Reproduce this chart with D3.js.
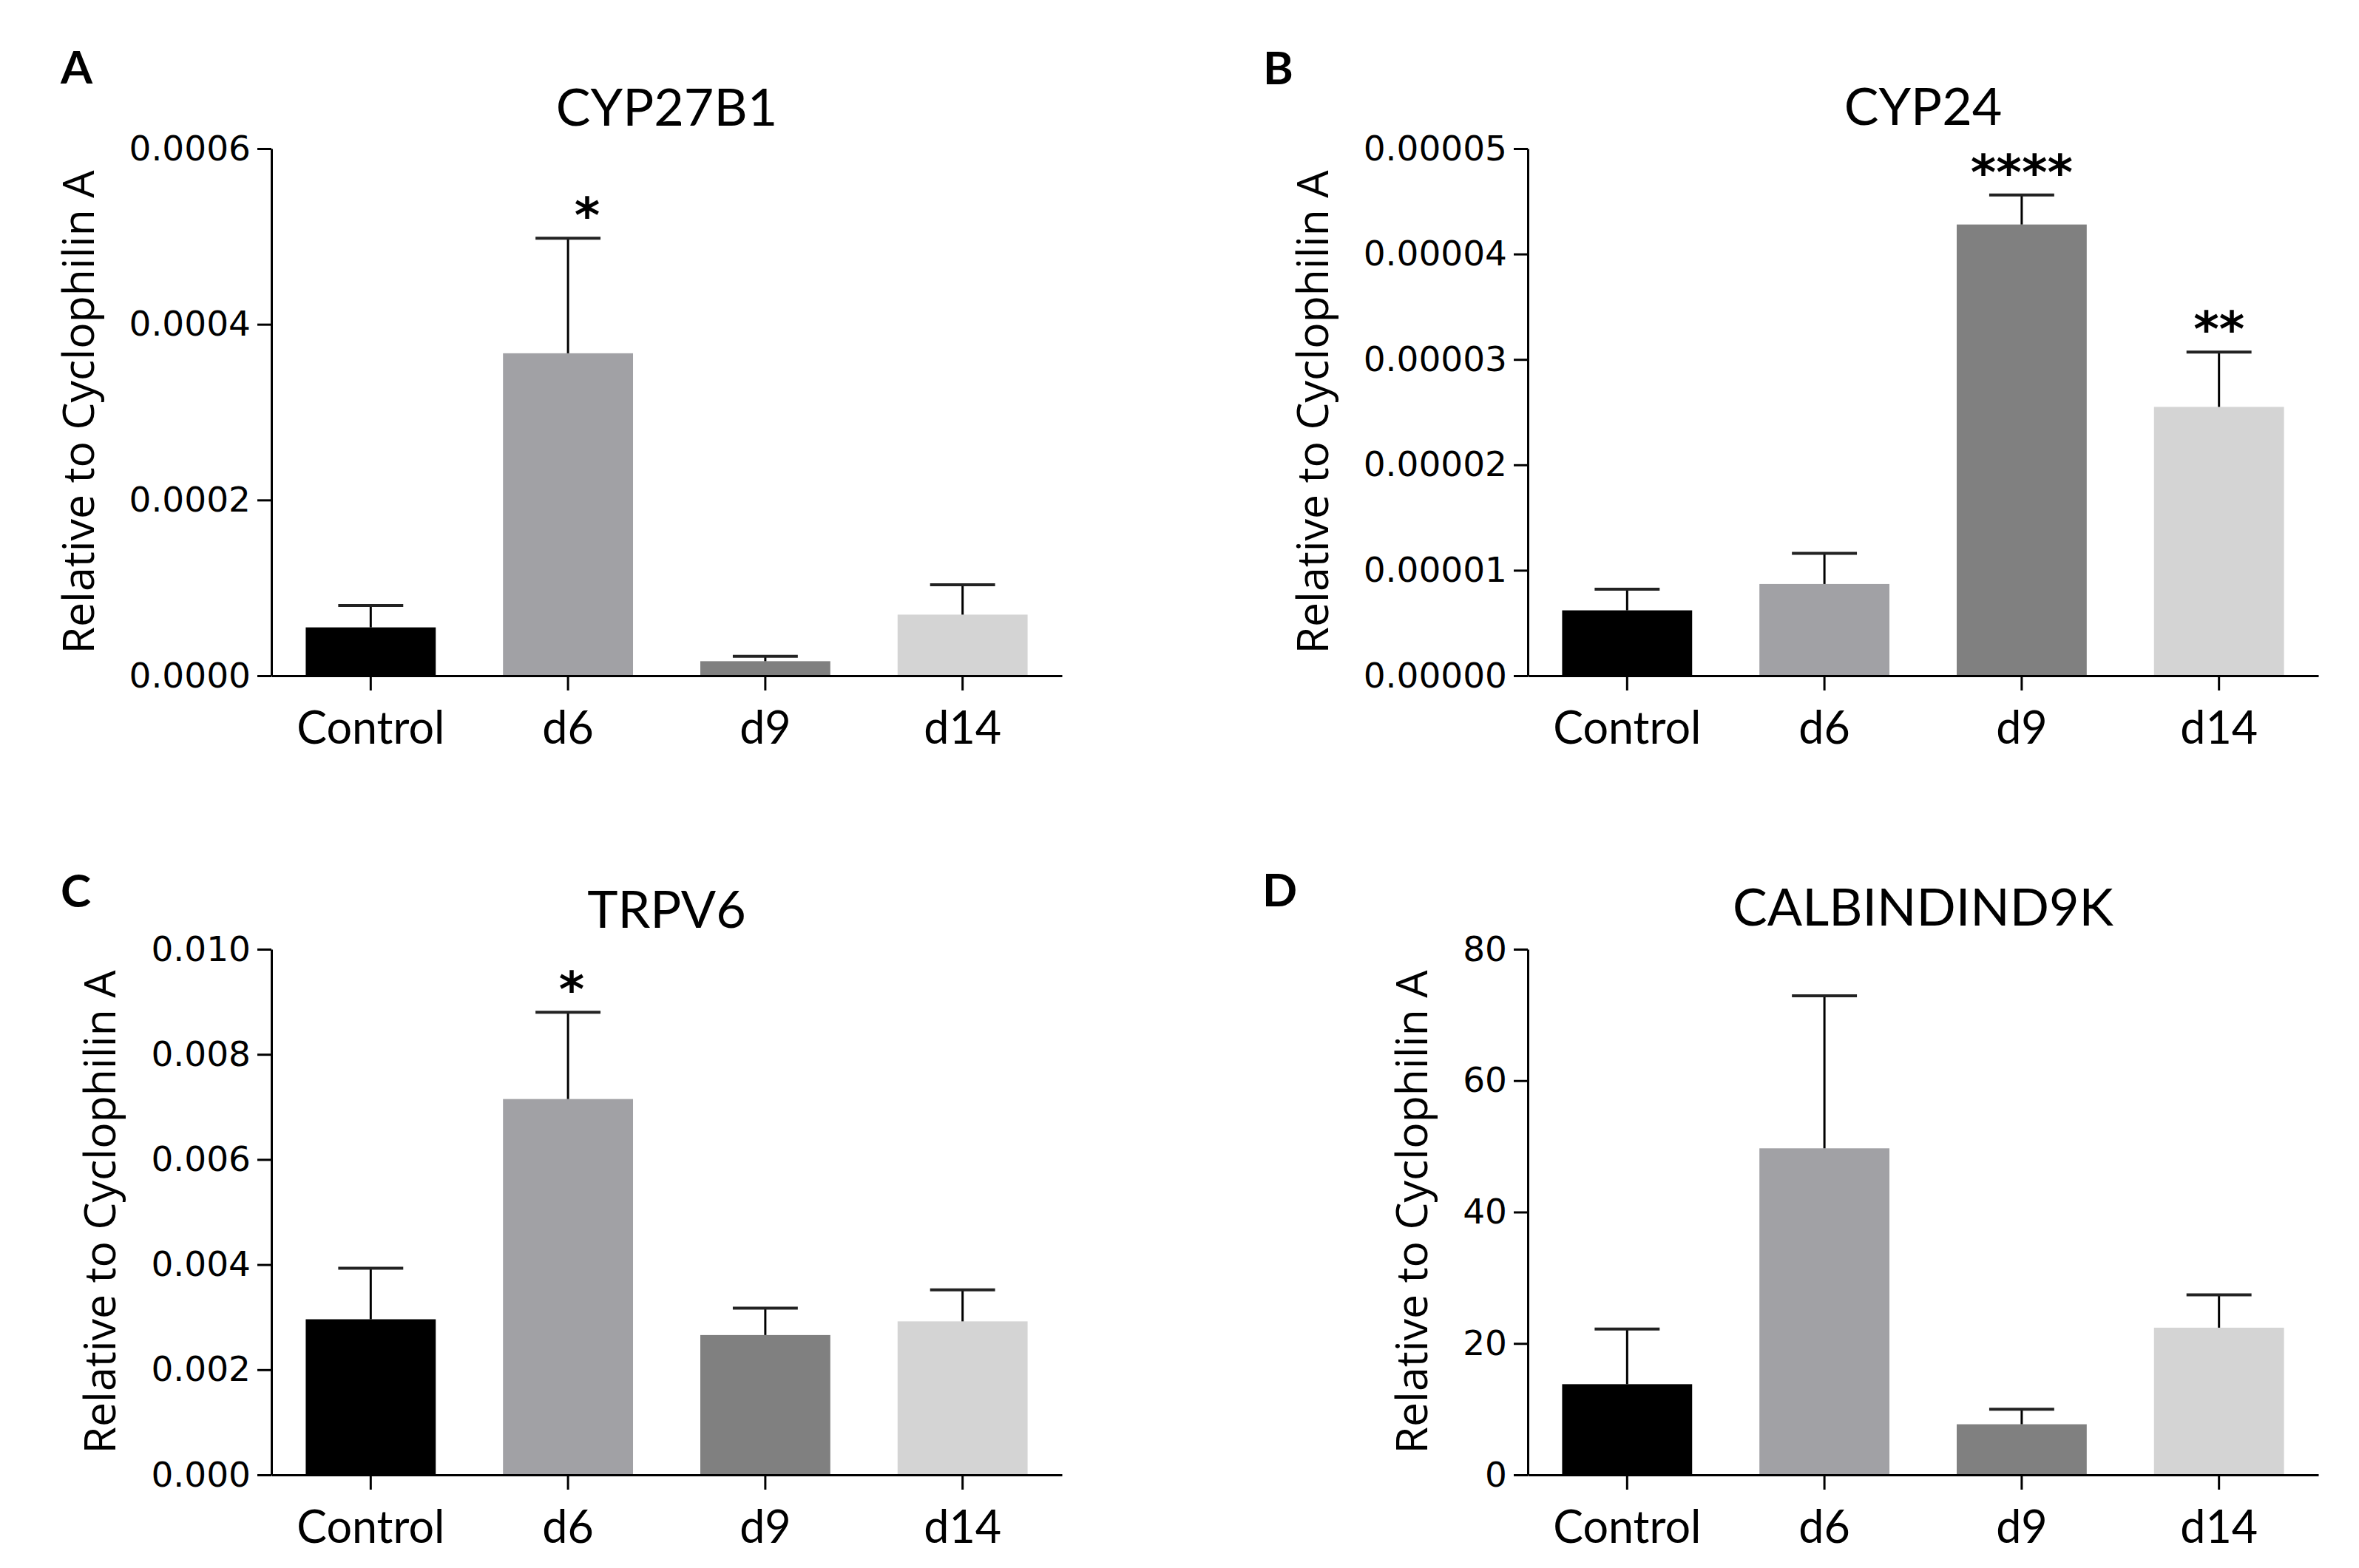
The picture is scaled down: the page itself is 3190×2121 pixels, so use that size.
<!DOCTYPE html>
<html>
<head>
<meta charset="utf-8">
<script src="https://cdn.jsdelivr.net/npm/d3@7"></script>
<style>
  html, body { margin: 0; padding: 0; background: #fff; }
</style>
</head>
<body>
<div id="chart"></div>
<script>
var width = 3190,
    height = 2121;

// data (mean and SEM per group)
var categories = ["Control", "d6", "d9", "d14"];
var barColors = ["#000000", "#a1a1a5", "#808080", "#d4d4d4"];

var cyp27b1Mean = [0.000055, 0.000367, 0.0000165, 0.0000695];
var cyp27b1Sem = [0.000025, 0.000131, 0.0000055, 0.000034];
var cyp27b1Sig = ["", "*", "", ""];
var cyp27b1Ticks = [0, 0.0002, 0.0004, 0.0006];

var cyp24Mean = [0.0000062, 0.0000087, 0.0000428, 0.0000255];
var cyp24Sem = [0.000002, 0.0000029, 0.0000028, 0.0000052];
var cyp24Sig = ["", "", "****", "**"];
var cyp24Ticks = [0, 0.00001, 0.00002, 0.00003, 0.00004, 0.00005];

var trpv6Mean = [0.00296, 0.00715, 0.00266, 0.00292];
var trpv6Sem = [0.00097, 0.00165, 0.00051, 0.0006];
var trpv6Sig = ["", "*", "", ""];
var trpv6Ticks = [0, 0.002, 0.004, 0.006, 0.008, 0.010];

var calbMean = [13.8, 49.7, 7.7, 22.4];
var calbSem = [8.4, 23.2, 2.3, 5.0];
var calbSig = ["", "", "", ""];
var calbTicks = [0, 20, 40, 60, 80];

var yTitle = "Relative to Cyclophilin A";

var svg = d3.select("#chart").append("svg")
    .attr("width", width)
    .attr("height", height);

function drawPanel(opt) {
    var x0 = opt.left, x1 = opt.left + 1069,
        yTop = opt.top, yZero = opt.zero;

    var x = d3.scaleBand()
        .domain(categories)
        .range([x0, x1])
        .paddingInner(0.341)
        .paddingOuter(0.174);
    var y = d3.scaleLinear()
        .domain([0, opt.ticks[opt.ticks.length - 1]])
        .range([yZero, yTop]);

    var g = svg.append("g");

    // bars
    g.selectAll(".bar")
        .data(opt.mean)
        .enter()
        .append("rect")
        .attr("x", (d, i) => x(categories[i]))
        .attr("y", d => y(d))
        .attr("width", x.bandwidth())
        .attr("height", d => yZero - y(d))
        .attr("fill", (d, i) => barColors[i]);

    // error bars (upper only)
    var capW = x.bandwidth() / 2;
    opt.mean.forEach(function (m, i) {
        var cx = x(categories[i]) + x.bandwidth() / 2;
        var top = m + opt.sem[i];
        g.append("line")
            .attr("x1", cx).attr("x2", cx)
            .attr("y1", y(m)).attr("y2", y(top))
            .attr("stroke", "#000")
            .attr("stroke-width", 3);
        g.append("line")
            .attr("x1", cx - capW / 2).attr("x2", cx + capW / 2)
            .attr("y1", y(top)).attr("y2", y(top))
            .attr("stroke", "#222")
            .attr("stroke-width", 4);
        if (opt.sig[i]) {
            g.append("text")
                .attr("x", cx + (opt.starDx || 0))
                .attr("y", y(top) - 8)
                .attr("text-anchor", "middle")
                .attr("font-family", "DejaVu Sans")
                .attr("font-weight", "bold")
                .attr("font-size", 66)
                .text(opt.sig[i]);
        }
    });

    // y axis
    var yAxis = g.append("g")
        .attr("transform", "translate(" + x0 + ",0)")
        .call(d3.axisLeft(y)
            .tickValues(opt.ticks)
            .tickFormat(d3.format(opt.fmt))
            .tickSize(19)
            .tickSizeOuter(0)
            .tickPadding(9));
    yAxis.selectAll("path, line").attr("stroke", "#000").attr("stroke-width", 3);
    yAxis.selectAll("text")
        .attr("font-family", "DejaVu Sans")
        .attr("font-size", 47)
        .attr("fill", "#000");

    // x axis
    var xAxis = g.append("g")
        .attr("transform", "translate(0," + yZero + ")")
        .call(d3.axisBottom(x).tickSize(20).tickSizeOuter(0));
    xAxis.selectAll("path, line").attr("stroke", "#000").attr("stroke-width", 3);
    xAxis.selectAll("text")
        .attr("y", 92)
        .attr("dy", 0)
        .attr("font-family", "Lato")
        .attr("font-size", 61)
        .attr("fill", "#000");

    // y axis title, placed left of the tick labels
    var bb = yAxis.node().getBBox();
    g.append("text")
        .attr("transform", "translate(" + (x0 + bb.x - 48) + "," + ((yTop + yZero) / 2) + ") rotate(-90)")
        .attr("text-anchor", "middle")
        .attr("font-family", "Open Sans")
        .attr("font-size", 59)
        .text(yTitle);

    // chart title
    g.append("text")
        .attr("x", (x0 + x1) / 2)
        .attr("y", opt.titleY)
        .attr("text-anchor", "middle")
        .attr("font-family", "Lato")
        .attr("font-size", 70)
        .text(opt.title);

    // panel letter
    g.append("text")
        .attr("x", opt.letterX)
        .attr("y", opt.letterY)
        .attr("font-family", "Lato")
        .attr("font-weight", "bold")
        .attr("font-size", 62)
        .text(opt.letter);
}

drawPanel({ letter: "A", title: "CYP27B1", left: 367, top: 201, zero: 914, titleY: 170, letterX: 82, letterY: 113,
    mean: cyp27b1Mean, sem: cyp27b1Sem, sig: cyp27b1Sig, ticks: cyp27b1Ticks, fmt: ".4f", starDx: 26 });
drawPanel({ letter: "B", title: "CYP24", left: 2066, top: 201, zero: 914, titleY: 169, letterX: 1708, letterY: 114,
    mean: cyp24Mean, sem: cyp24Sem, sig: cyp24Sig, ticks: cyp24Ticks, fmt: ".5f" });
drawPanel({ letter: "C", title: "TRPV6", left: 367, top: 1284, zero: 1995, titleY: 1255, letterX: 82, letterY: 1227,
    mean: trpv6Mean, sem: trpv6Sem, sig: trpv6Sig, ticks: trpv6Ticks, fmt: ".3f", starDx: 5 });
drawPanel({ letter: "D", title: "CALBINDIND9K", left: 2066, top: 1284, zero: 1995, titleY: 1252, letterX: 1707, letterY: 1226,
    mean: calbMean, sem: calbSem, sig: calbSig, ticks: calbTicks, fmt: "d" });
</script>
</body>
</html>
